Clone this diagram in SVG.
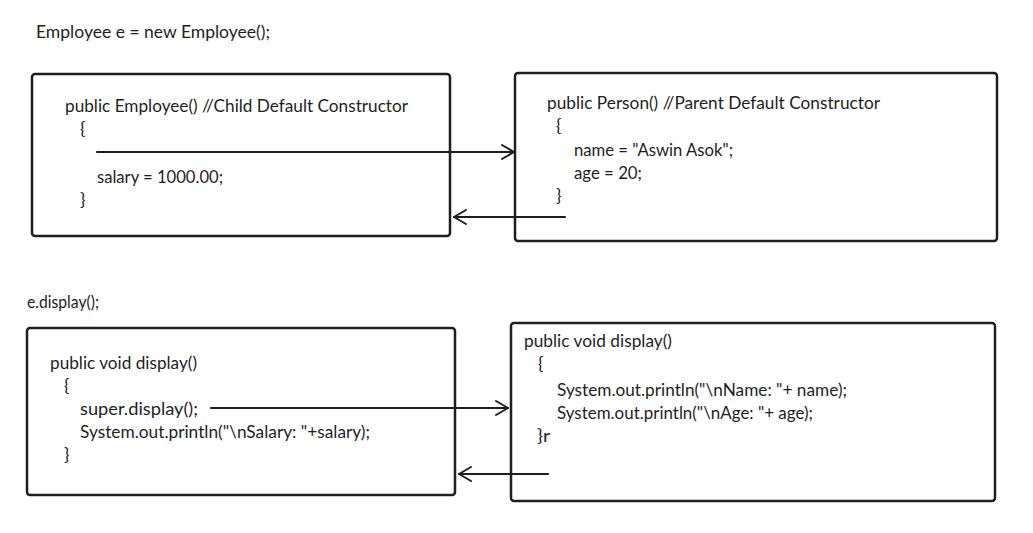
<svg xmlns="http://www.w3.org/2000/svg" width="1033" height="533" viewBox="0 0 1033 533">
<style>
text{font-family:Lato,"Liberation Sans",sans-serif;font-size:18px;font-weight:400;fill:#1e1e1e}
.box{fill:none;stroke:#1e1e1e;stroke-width:2.5;stroke-linejoin:round}
.conn{fill:none;stroke:#1e1e1e;stroke-width:2.2;stroke-linecap:round}
</style>
<defs>
<marker id="ah" markerWidth="16" markerHeight="16" refX="13" refY="8" orient="auto" markerUnits="userSpaceOnUse">
<path d="M1,1 L13,8 L1,15" fill="none" stroke="#1e1e1e" stroke-width="2" stroke-linecap="round" stroke-linejoin="round"/>
</marker>
</defs>
<rect width="1033" height="533" fill="#ffffff"/>
<text id="t-new" x="36" y="38" textLength="234" lengthAdjust="spacingAndGlyphs">Employee e = new Employee();</text>
<g id="child-ctor">
<rect class="box" x="32" y="74" width="418" height="162" rx="3"/>
<text x="65" y="112" textLength="343" lengthAdjust="spacingAndGlyphs">public Employee() //Child Default Constructor</text>
<text x="80" y="135">{</text>
<text x="97" y="183" textLength="126" lengthAdjust="spacingAndGlyphs">salary = 1000.00;</text>
<text x="80" y="206">}</text>
</g>
<g id="parent-ctor">
<rect class="box" x="515" y="73" width="482" height="168" rx="3"/>
<text x="547" y="109" textLength="333" lengthAdjust="spacingAndGlyphs">public Person() //Parent Default Constructor</text>
<text x="556" y="132">{</text>
<text x="574" y="156" textLength="159" lengthAdjust="spacingAndGlyphs">name = "Aswin Asok";</text>
<text x="574" y="179" textLength="68" lengthAdjust="spacingAndGlyphs">age = 20;</text>
<text x="556" y="202">}</text>
</g>
<text id="t-call" x="27" y="308" textLength="72" lengthAdjust="spacingAndGlyphs">e.display();</text>
<g id="child-display">
<rect class="box" x="27" y="328" width="428" height="167" rx="3"/>
<text x="50" y="369" textLength="147" lengthAdjust="spacingAndGlyphs">public void display()</text>
<text x="64" y="392">{</text>
<text x="80" y="415" textLength="118" lengthAdjust="spacingAndGlyphs">super.display();</text>
<text x="80" y="438" textLength="290" lengthAdjust="spacingAndGlyphs">System.out.println("\nSalary: "+salary);</text>
<text x="64" y="461">}</text>
</g>
<g id="parent-display">
<rect class="box" x="511" y="323" width="484" height="178" rx="3"/>
<text x="524" y="347" textLength="148" lengthAdjust="spacingAndGlyphs">public void display()</text>
<text x="538" y="370">{</text>
<text x="557" y="396" textLength="290" lengthAdjust="spacingAndGlyphs">System.out.println("\nName: "+ name);</text>
<text x="557" y="419" textLength="256" lengthAdjust="spacingAndGlyphs">System.out.println("\nAge: "+ age);</text>
<text x="537" y="442" textLength="13" lengthAdjust="spacingAndGlyphs">}r</text>
</g>
<g id="connectors">
<line class="conn" x1="97" y1="152" x2="514" y2="152" marker-end="url(#ah)"/>
<line class="conn" x1="565" y1="217" x2="454" y2="217" marker-end="url(#ah)"/>
<line class="conn" x1="211" y1="408" x2="508" y2="408" marker-end="url(#ah)"/>
<line class="conn" x1="548" y1="474" x2="459" y2="474" marker-end="url(#ah)"/>
</g>
</svg>
